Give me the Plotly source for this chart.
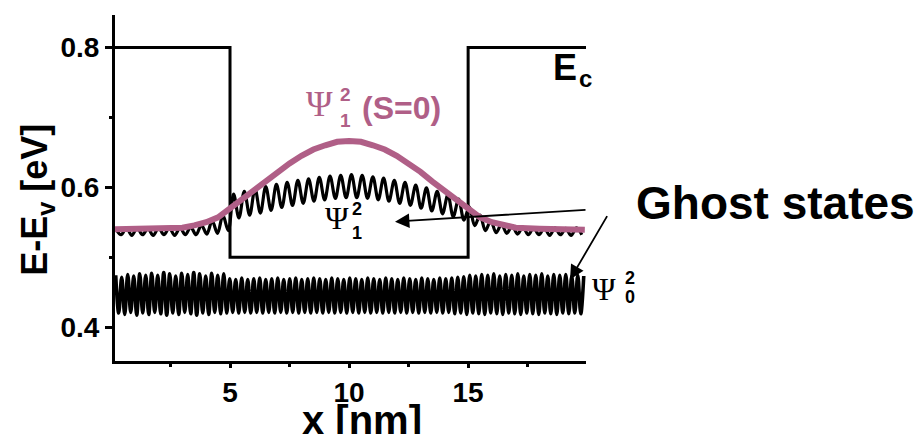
import numpy as np
import plotly.graph_objects as go

# ---------------- data ----------------
# Conduction band edge Ec (eV) along x (nm)
ec_x = [0.17, 5, 5, 15, 15, 19.95]
ec_y = [0.8, 0.8, 0.5, 0.5, 0.8, 0.8]

# Psi_1^2 (S=0): smooth bound state (pink)
s0_x = [0.17, 1.0, 2.0, 3.0, 3.5, 4.0, 4.5, 5.0, 5.5, 6.0, 6.5, 7.0, 7.5, 8.0, 8.5, 9.0, 9.5, 10.0,
        10.5, 11.0, 11.5, 12.0, 12.5, 13.0, 13.5, 14.0, 14.5, 15.0, 15.5, 16.0, 16.5, 17.0, 18.0, 19.0, 19.9]
s0_y = [0.540, 0.540, 0.5405, 0.542, 0.5455, 0.550, 0.557, 0.570, 0.582, 0.595, 0.608, 0.622, 0.634, 0.645, 0.654, 0.660, 0.665, 0.666,
        0.665, 0.660, 0.654, 0.645, 0.634, 0.622, 0.608, 0.595, 0.582, 0.570, 0.557, 0.550, 0.5455, 0.542, 0.5405, 0.540, 0.539]

# Psi_1^2 with ghost oscillations: successive maxima/minima (black)
psi1_start, psi1_step = 0.2, 0.225
psi1_ext = [0.541, 0.532, 0.542, 0.531, 0.542, 0.532, 0.541, 0.531, 0.542, 0.532,
            0.542, 0.531, 0.542, 0.532, 0.543, 0.532, 0.546, 0.533, 0.552, 0.534,
            0.560, 0.538, 0.590, 0.556, 0.594, 0.560, 0.598, 0.563, 0.601, 0.567,
            0.604, 0.571, 0.607, 0.574, 0.610, 0.577, 0.612, 0.580, 0.614, 0.582,
            0.616, 0.584, 0.617, 0.585, 0.618, 0.585, 0.617, 0.584, 0.615, 0.582,
            0.613, 0.580, 0.610, 0.577, 0.607, 0.574, 0.603, 0.570, 0.599, 0.566,
            0.594, 0.562, 0.589, 0.558, 0.583, 0.553, 0.572, 0.545, 0.560, 0.538,
            0.552, 0.535, 0.547, 0.534, 0.545, 0.533, 0.543, 0.532, 0.542, 0.532,
            0.542, 0.531, 0.542, 0.532, 0.541, 0.531, 0.542, 0.532]

# Psi_0^2 ghost state: successive maxima / minima (black band)
psi0_start, psi0_step = 0.2, 0.126
psi0_peaks = [0.474, 0.471, 0.475, 0.473, 0.476, 0.474, 0.477, 0.474, 0.478, 0.476,
              0.473, 0.477, 0.475, 0.478, 0.476, 0.473, 0.477, 0.474, 0.476, 0.469,
              0.468, 0.470, 0.468, 0.469, 0.470, 0.468, 0.469, 0.470, 0.468, 0.469,
              0.470, 0.468, 0.469, 0.470, 0.469, 0.468, 0.470, 0.469, 0.468, 0.470,
              0.469, 0.468, 0.470, 0.469, 0.468, 0.470, 0.469, 0.468, 0.470, 0.469,
              0.468, 0.470, 0.469, 0.468, 0.470, 0.469, 0.470, 0.471, 0.472, 0.474,
              0.473, 0.475, 0.474, 0.476, 0.473, 0.475, 0.474, 0.476, 0.473, 0.475,
              0.474, 0.476, 0.473, 0.475, 0.474, 0.475, 0.473, 0.474, 0.473]
psi0_troughs = [0.420, 0.418, 0.421, 0.417, 0.420, 0.418, 0.421, 0.419, 0.417, 0.420,
                0.418, 0.421, 0.419, 0.417, 0.420, 0.418, 0.421, 0.419, 0.420, 0.421,
                0.420, 0.421, 0.420, 0.421, 0.420, 0.421, 0.420, 0.421, 0.420, 0.421,
                0.420, 0.421, 0.420, 0.421, 0.420, 0.421, 0.420, 0.421, 0.420, 0.421,
                0.420, 0.421, 0.420, 0.421, 0.420, 0.421, 0.420, 0.421, 0.420, 0.421,
                0.420, 0.421, 0.420, 0.421, 0.420, 0.421, 0.419, 0.420, 0.418, 0.420,
                0.419, 0.418, 0.420, 0.419, 0.418, 0.420, 0.419, 0.418, 0.420, 0.419,
                0.418, 0.420, 0.419, 0.418, 0.420, 0.419, 0.420, 0.419]

x_ticks = [5, 10, 15]
y_ticks = [0.4, 0.6, 0.8]

# ---------------- build ----------------
psi1_x = [psi1_start + psi1_step * i for i in range(len(psi1_ext))]
psi0_y = []
for i in range(len(psi0_peaks)):
    psi0_y.append(psi0_peaks[i])
    if i < len(psi0_troughs):
        psi0_y.append(psi0_troughs[i])
psi0_x = [psi0_start + psi0_step * i for i in range(len(psi0_y))]

PINK = "#B05F87"
fig = go.Figure()
fig.add_trace(go.Scatter(x=ec_x, y=ec_y, mode="lines", line=dict(color="black", width=3), hoverinfo="skip"))
fig.add_trace(go.Scatter(x=psi0_x, y=psi0_y, mode="lines", line=dict(color="black", width=3.6, shape="spline"), hoverinfo="skip"))
fig.add_trace(go.Scatter(x=psi1_x, y=psi1_ext, mode="lines", line=dict(color="black", width=3.2, shape="spline"), hoverinfo="skip"))
fig.add_trace(go.Scatter(x=s0_x, y=s0_y, mode="lines", line=dict(color=PINK, width=6), hoverinfo="skip"))

L, R, T, B = 115, 586, 15, 361.5
W, H = 924, 434


def px(x):
    return (x - L) / (R - L)


def py(y):
    return (B - y) / (B - T)


SANS = "Liberation Sans, Arial, sans-serif"
SERIF = "Liberation Serif, Times New Roman, serif"


def txt(s, x, y, size, color="black", family=SANS, weight="bold", angle=0):
    fig.add_annotation(text=s, x=px(x), y=py(y), xref="paper", yref="paper",
                       xanchor="center", yanchor="middle", showarrow=False,
                       textangle=angle,
                       font=dict(family=family, size=size, color=color, weight=weight))


# pink label
txt("Ψ", 319, 104, 36, PINK, SERIF, "normal")
txt("2", 345, 95, 19, PINK)
txt("1", 345, 121, 19, PINK)
txt("(S=0)", 401, 108, 32, PINK)
# Psi1 label
txt("Ψ", 337, 218, 32, "black", SERIF, "normal")
txt("2", 357, 209, 18)
txt("1", 357, 233, 18)
# Psi0 label
txt("Ψ", 604, 289, 32, "black", SERIF, "normal")
txt("2", 630, 278, 18)
txt("0", 630, 297, 18)
# Ec
txt("E", 565, 68, 36)
txt("c", 585, 79, 24)
# Ghost states
txt("Ghost states", 775, 203, 46)
# axis titles
txt("x [nm]", 362, 421, 40)
txt("E-E<sub>v</sub> [eV]", 37, 200, 36, angle=-90)

# arrows
fig.add_annotation(x=px(395), y=py(222), xref="paper", yref="paper", ax=587 - 395, ay=210 - 222,
                   showarrow=True, arrowhead=2, arrowsize=1.6, arrowwidth=1.8, arrowcolor="black", text="")
fig.add_annotation(x=px(570), y=py(280), xref="paper", yref="paper", ax=608 - 570, ay=215 - 280,
                   showarrow=True, arrowhead=2, arrowsize=1.6, arrowwidth=1.8, arrowcolor="black", text="")

fig.update_xaxes(range=[0.17, 19.95], showgrid=False, zeroline=False, showline=True, linecolor="black", linewidth=3,
                 tickmode="array", tickvals=x_ticks, ticktext=[str(v) for v in x_ticks],
                 ticks="outside", ticklen=4, tickwidth=2.5, tickcolor="black",
                 tickfont=dict(family=SANS, size=28, color="black", weight="bold"),
                 minor=dict(tickvals=[2.5, 7.5, 12.5, 17.5], ticks="outside", ticklen=3, tickwidth=2.5, tickcolor="black"))
fig.update_yaxes(range=[0.3514, 0.8464], showgrid=False, zeroline=False, showline=True, linecolor="black", linewidth=3,
                 tickmode="array", tickvals=y_ticks, ticktext=["%.1f" % v for v in y_ticks],
                 ticks="outside", ticklen=7, tickwidth=2.5, tickcolor="black",
                 tickfont=dict(family=SANS, size=28, color="black", weight="bold"),
                 minor=dict(tickvals=[0.5, 0.7], ticks="outside", ticklen=3, tickwidth=2.5, tickcolor="black"))
fig.update_layout(width=W, height=H, margin=dict(l=L, r=W - R, t=T, b=H - B),
                  paper_bgcolor="white", plot_bgcolor="white", showlegend=False)

fig.write_html("out.html")
